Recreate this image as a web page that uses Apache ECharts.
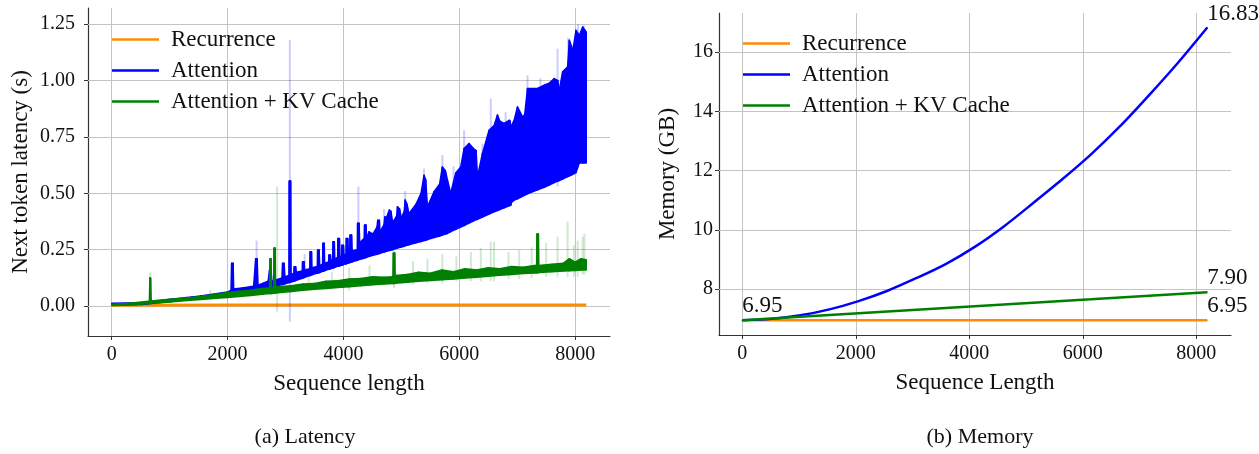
<!DOCTYPE html>
<html>
<head>
<meta charset="utf-8">
<script src="https://cdn.jsdelivr.net/npm/echarts@6/dist/echarts.min.js"></script>
<style>
  html, body { margin: 0; padding: 0; background: #fff; }
  #chart { width: 1259px; height: 454px; }
</style>
</head>
<body>
<div id="chart"></div>
<script>
// ---- (a) Latency: values ----
const latXTicks = [0, 2000, 4000, 6000, 8000]
const latYTicks = [0, 0.25, 0.5, 0.75, 1.0, 1.25]

// Recurrence stays flat near zero
const recSeq = [0, 2000, 4000, 6000, 8192]
const recLatency = [0.003, 0.004, 0.004, 0.004, 0.004]

// Attention: solid band (upper / lower envelope of the smoothed trace)
const attnSeq = [0, 512, 1024, 1536, 2000, 2060, 2070, 2095, 2105, 2250, 2450, 2485, 2510, 2525, 2700, 2725, 2750, 2765,
  2940, 2950, 2975, 2990, 3060, 3065, 3088, 3095, 3145, 3150, 3175, 3185, 3290, 3295, 3320, 3330, 3420, 3425, 3448, 3455,
  3550, 3555, 3580, 3590, 3640, 3645, 3668, 3675, 3745, 3750, 3775, 3785, 3815, 3820, 3842, 3850, 3900, 3905, 3930, 3940,
  3970, 3975, 4000, 4010, 4045, 4050, 4075, 4085, 4110, 4115, 4140, 4150, 4240, 4245, 4270, 4280, 4320, 4360, 4365, 4390,
  4400, 4441, 4510, 4580, 4592, 4620, 4630, 4700, 4715, 4740, 4793, 4820, 4850, 4920, 4933, 4970, 5000, 5050, 5066, 5100,
  5130, 5250, 5340, 5391, 5420, 5450, 5564, 5660, 5708, 5760, 5795, 5852, 5939, 6025, 6083, 6169, 6240, 6290, 6314, 6400,
  6515, 6600, 6659, 6700, 6774, 6861, 6880, 6890, 6900, 6948, 7005, 7092, 7130, 7178, 7351, 7467, 7560, 7640, 7700, 7726,
  7784, 7871, 7900, 7940, 7957, 8015, 8072, 8130, 8192]
const attnUpper = [0.012, 0.015, 0.03, 0.045, 0.062, 0.07, 0.19, 0.19, 0.075, 0.08, 0.088, 0.21, 0.21, 0.092, 0.11, 0.16, 0.16, 0.11,
  0.125, 0.19, 0.19, 0.13, 0.135, 0.555, 0.555, 0.14, 0.145, 0.174, 0.174, 0.15, 0.155, 0.196, 0.196, 0.16, 0.165, 0.241, 0.241, 0.17,
  0.175, 0.248, 0.248, 0.18, 0.185, 0.278, 0.278, 0.19, 0.195, 0.226, 0.226, 0.2, 0.205, 0.285, 0.285, 0.21, 0.215, 0.30, 0.30, 0.22,
  0.22, 0.27, 0.27, 0.225, 0.23, 0.30, 0.30, 0.235, 0.24, 0.315, 0.315, 0.245, 0.25, 0.367, 0.367, 0.28, 0.29, 0.30, 0.359, 0.359,
  0.30, 0.329, 0.32, 0.35, 0.381, 0.381, 0.33, 0.36, 0.396, 0.39, 0.426, 0.42, 0.37, 0.40, 0.44, 0.43, 0.39, 0.42, 0.47, 0.45,
  0.41, 0.45, 0.50, 0.58, 0.56, 0.44, 0.507, 0.54, 0.617, 0.60, 0.559, 0.50, 0.59, 0.617, 0.699, 0.721, 0.70, 0.69, 0.573, 0.677,
  0.78, 0.80, 0.847, 0.82, 0.81, 0.824, 0.82, 0.69, 0.80, 0.824, 0.883, 0.839, 0.85, 0.965, 0.965, 0.98, 0.99, 1.009, 1.0, 0.957,
  1.039, 1.061, 1.179, 1.15, 1.127, 1.223, 1.20, 1.238, 1.216]
const attnLower = [0.003, 0.007, 0.02, 0.033, 0.05, 0.052, 0.052, 0.053, 0.053, 0.058, 0.065, 0.066, 0.067, 0.068, 0.079, 0.08, 0.082, 0.083,
  0.095, 0.096, 0.098, 0.099, 0.104, 0.104, 0.106, 0.107, 0.11, 0.11, 0.113, 0.114, 0.123, 0.123, 0.126, 0.127, 0.135, 0.136, 0.138, 0.139,
  0.146, 0.146, 0.148, 0.149, 0.154, 0.154, 0.156, 0.157, 0.163, 0.163, 0.165, 0.166, 0.169, 0.169, 0.171, 0.172, 0.176, 0.176, 0.178, 0.179,
  0.181, 0.181, 0.184, 0.185, 0.187, 0.188, 0.19, 0.191, 0.193, 0.193, 0.195, 0.196, 0.203, 0.204, 0.206, 0.207, 0.21, 0.213, 0.213, 0.215,
  0.216, 0.22, 0.225, 0.23, 0.231, 0.233, 0.234, 0.24, 0.241, 0.243, 0.246, 0.248, 0.25, 0.256, 0.257, 0.26, 0.262, 0.265, 0.267, 0.27,
  0.272, 0.28, 0.286, 0.29, 0.292, 0.295, 0.304, 0.31, 0.315, 0.319, 0.322, 0.33, 0.34, 0.35, 0.357, 0.368, 0.377, 0.383, 0.385, 0.395,
  0.408, 0.418, 0.424, 0.428, 0.436, 0.445, 0.447, 0.448, 0.46, 0.47, 0.476, 0.487, 0.492, 0.498, 0.515, 0.527, 0.538, 0.548, 0.554, 0.557,
  0.563, 0.574, 0.577, 0.582, 0.584, 0.592, 0.634, 0.634, 0.634]

// Attention: faint raw spikes
const attnRawSeq = [2500, 3075, 3330, 4258, 4700, 5066, 5391, 5708, 5900, 6083, 6400, 6544, 6800, 7178, 7400, 7697, 7880, 8050, 8150]
const attnRawLo = [0.07, -0.07, 0.13, 0.30, 0.35, 0.40, 0.45, 0.52, 0.50, 0.60, 0.60, 0.70, 0.75, 0.90, 0.90, 0.53, 1.00, 1.05, 1.10]
const attnRawHi = [0.29, 1.18, 0.23, 0.53, 0.43, 0.51, 0.61, 0.67, 0.62, 0.78, 0.72, 0.92, 0.86, 1.024, 1.01, 1.142, 1.19, 1.25, 1.245]

// Attention + KV Cache: solid band
const kvSeq = [0, 300, 600, 650, 658, 670, 680, 1000, 1300, 1600, 1800, 2000, 2200, 2400, 2600,
  2725, 2732, 2750, 2757, 2795, 2802, 2820, 2827, 3100, 3300, 3500, 3700, 3900, 4100, 4300, 4500, 4700,
  4855, 4862, 4885, 4892, 5100, 5300, 5500, 5700, 5900, 6100, 6300, 6500, 6700, 6900, 7100, 7300,
  7335, 7342, 7365, 7372, 7600, 7800, 7900, 8000, 8100, 8192]
const kvUpper = [0.008, 0.012, 0.02, 0.021, 0.124, 0.124, 0.022, 0.03, 0.036, 0.045, 0.052, 0.06, 0.066, 0.07, 0.078,
  0.08, 0.21, 0.21, 0.082, 0.083, 0.257, 0.257, 0.085, 0.09, 0.098, 0.10, 0.11, 0.112, 0.12, 0.122, 0.13, 0.128,
  0.13, 0.235, 0.235, 0.135, 0.14, 0.15, 0.145, 0.16, 0.152, 0.165, 0.16, 0.17, 0.165, 0.175, 0.172, 0.18,
  0.18, 0.32, 0.32, 0.18, 0.185, 0.19, 0.21, 0.195, 0.21, 0.205]
const kvLower = [0.002, 0.005, 0.01, 0.011, 0.011, 0.011, 0.012, 0.018, 0.024, 0.03, 0.034, 0.038, 0.042, 0.047, 0.052,
  0.055, 0.055, 0.055, 0.056, 0.057, 0.057, 0.057, 0.058, 0.064, 0.07, 0.074, 0.078, 0.082, 0.086, 0.09, 0.094, 0.098,
  0.1, 0.1, 0.1, 0.101, 0.105, 0.11, 0.113, 0.117, 0.12, 0.124, 0.128, 0.132, 0.136, 0.14, 0.144, 0.147,
  0.148, 0.148, 0.148, 0.149, 0.152, 0.155, 0.156, 0.158, 0.16, 0.16]

// Attention + KV Cache: faint raw spikes
const kvRawSeq = [663, 1700, 2400, 2855, 3400, 3800, 4100, 4450, 4872, 5200, 5450, 5708, 5950, 6200, 6372, 6544, 6600,
  6850, 7034, 7250, 7500, 7697, 7870, 7980, 8043, 8130, 8160]
const kvRawLo = [0.01, 0.03, 0.045, -0.025, 0.07, 0.075, 0.07, 0.085, 0.08, 0.095, 0.10, 0.10, 0.11, 0.11, 0.11, 0.11, 0.11,
  0.12, 0.12, 0.125, 0.13, 0.13, 0.13, 0.13, 0.13, 0.14, 0.14]
const kvRawHi = [0.15, 0.07, 0.09, 0.53, 0.13, 0.15, 0.17, 0.18, 0.26, 0.2, 0.21, 0.23, 0.22, 0.24, 0.257, 0.285, 0.285,
  0.24, 0.25, 0.26, 0.28, 0.308, 0.374, 0.27, 0.29, 0.307, 0.32]

// ---- (b) Memory ----
const memXTicks = [0, 2000, 4000, 6000, 8000]
const memYTicks = [8, 10, 12, 14, 16]
const memSeq = [0, 512, 1024, 1536, 2048, 2560, 3072, 3584, 4096, 4608, 5120, 5632, 6144, 6656, 7168, 7680, 8192]
const memAttn = [6.95, 7.0, 7.12, 7.32, 7.6, 7.95, 8.38, 8.85, 9.43, 10.12, 10.9, 11.7, 12.55, 13.5, 14.55, 15.65, 16.83]
const memKvSeq = [0, 2048, 4096, 6144, 8192]
const memKv = [6.95, 7.19, 7.43, 7.66, 7.90]
const memRecSeq = [0, 8192]
const memRec = [6.95, 6.95]

const legendNames = ['Recurrence', 'Attention', 'Attention + KV Cache']
const legendColors = ['#ff8c00', '#0000ff', '#008000']

const FONT = 'Liberation Serif'
const INK = '#111'
const GRID_COLOR = '#c4c4c4'

const pairs = (xs, ys) => xs.map((x, i) => [x, ys[i]])

// filled band between lo and hi, drawn as one quad per segment
function bandSeries(name, xs, lo, hi, color, z) {
  const segs = xs.slice(0, -1).map((x, i) => [x, lo[i], hi[i], xs[i + 1], lo[i + 1], hi[i + 1]])
  return {
    name, type: 'custom', xAxisIndex: 0, yAxisIndex: 0, z, silent: true,
    data: segs,
    encode: { x: [0, 3], y: [1, 2, 4, 5] },
    renderItem: (params, api) => {
      const a = api.coord([api.value(0), api.value(2)])
      const b = api.coord([api.value(3), api.value(5)])
      const c = api.coord([api.value(3), api.value(4)])
      const d = api.coord([api.value(0), api.value(1)])
      return {
        type: 'polygon',
        shape: { points: [a, b, c, d] },
        style: { fill: color, stroke: color, lineWidth: 1.5, lineJoin: 'round' }
      }
    }
  }
}

function spikeSeries(xs, lo, hi, color) {
  return {
    type: 'custom', xAxisIndex: 0, yAxisIndex: 0, silent: true, z: 3,
    data: xs.map((x, i) => [x, lo[i], hi[i]]),
    encode: { x: 0, y: [1, 2] },
    renderItem: (params, api) => {
      const a = api.coord([api.value(0), api.value(1)])
      const b = api.coord([api.value(0), api.value(2)])
      return {
        type: 'line',
        shape: { x1: a[0], y1: a[1], x2: b[0], y2: b[1] },
        style: { stroke: color, lineWidth: 2 }
      }
    }
  }
}

function gridLines(xt, yt) {
  return {
    silent: true, symbol: 'none', z: 1,
    label: { show: false },
    lineStyle: { color: GRID_COLOR, width: 1, type: 'solid' },
    emphasis: { disabled: true },
    data: xt.map(v => ({ xAxis: v })).concat(yt.map(v => ({ yAxis: v })))
  }
}

function xAxisOpt(idx, min, max, ticks, name) {
  return {
    type: 'value', gridIndex: idx, min, max,
    name, nameLocation: 'middle', nameGap: 36,
    nameTextStyle: { fontFamily: FONT, fontSize: 23, color: INK },
    splitLine: { show: false },
    axisLine: { onZero: false, lineStyle: { color: '#333', width: 1.2 } },
    axisTick: { customValues: ticks, length: 4, lineStyle: { color: '#333' } },
    axisLabel: { customValues: ticks, margin: 9, fontFamily: FONT, fontSize: 20, color: INK, formatter: v => String(v) }
  }
}

function yAxisOpt(idx, min, max, ticks, name, gap, margin, fmt) {
  return {
    type: 'value', gridIndex: idx, min, max,
    name, nameLocation: 'middle', nameGap: gap,
    nameTextStyle: { fontFamily: FONT, fontSize: 23, color: INK },
    splitLine: { show: false },
    axisLine: { show: true, onZero: false, lineStyle: { color: '#333', width: 1.2 } },
    axisTick: { customValues: ticks, length: 4, lineStyle: { color: '#333' } },
    axisLabel: { customValues: ticks, margin, fontFamily: FONT, fontSize: 20, color: INK, formatter: fmt }
  }
}

function legendOpt(left, top) {
  return {
    orient: 'vertical', left, top, z: 20,
    icon: 'rect', itemWidth: 47, itemHeight: 2.5, itemGap: 8,
    selectedMode: false,
    textStyle: { fontFamily: FONT, fontSize: 23, color: INK, lineHeight: 23, padding: [0, 0, 0, 7] },
    data: legendNames.map((n, i) => ({ name: n, itemStyle: { color: legendColors[i] } }))
  }
}

const endLabel = {
  show: true, position: 'top', align: 'left', verticalAlign: 'bottom', distance: 2,
  fontFamily: FONT, fontSize: 23, color: INK,
  formatter: p => p.value[1].toFixed(2)
}
const labelled = (arr, which) => arr.map((d, i) => which.includes(i) ? { value: d, label: endLabel } : d)

function memLine(name, xs, ys, color, which, smooth) {
  return {
    name, type: 'line', xAxisIndex: 1, yAxisIndex: 1, z: 3, smooth,
    symbol: 'circle', symbolSize: 1, showSymbol: true, showAllSymbol: true,
    color, itemStyle: { color }, lineStyle: { width: 2.5, color },
    label: { show: false },
    data: labelled(pairs(xs, ys), which)
  }
}

const chart = echarts.init(document.getElementById('chart'), null, { renderer: 'canvas' })

const option = {
  animation: false,
  backgroundColor: '#fff',
  grid: [
    { left: 88, top: 8, right: 649, bottom: 118 },
    { left: 719, top: 13, right: 28, bottom: 119 }
  ],
  xAxis: [
    xAxisOpt(0, -410, 8602, latXTicks, 'Sequence length'),
    xAxisOpt(1, -410, 8610, memXTicks, 'Sequence Length')
  ],
  yAxis: [
    yAxisOpt(0, -0.133, 1.322, latYTicks, 'Next token latency (s)', 56, 13, v => v.toFixed(2)),
    yAxisOpt(1, 6.456, 17.32, memYTicks, 'Memory (GB)', 40, 6, v => String(v))
  ],
  legend: [legendOpt(107, 23), legendOpt(738, 27)],
  graphic: [
    { type: 'text', x: 305, y: 437, style: { text: '(a) Latency', align: 'center', verticalAlign: 'middle', font: '22px "Liberation Serif"', fill: INK } },
    { type: 'text', x: 980, y: 437, style: { text: '(b) Memory', align: 'center', verticalAlign: 'middle', font: '22px "Liberation Serif"', fill: INK } }
  ],
  series: [
    // ---- latency ----
    {
      name: 'Recurrence', type: 'line', xAxisIndex: 0, yAxisIndex: 0, z: 2,
      symbol: 'none', color: '#ff8c00', lineStyle: { width: 3, color: '#ff8c00' },
      data: pairs(recSeq, recLatency),
      markLine: gridLines(latXTicks, latYTicks)
    },
    spikeSeries(attnRawSeq, attnRawLo, attnRawHi, 'rgba(0,0,255,0.2)'),
    bandSeries('Attention', attnSeq, attnLower, attnUpper, '#0000ff', 4),
    spikeSeries(kvRawSeq, kvRawLo, kvRawHi, 'rgba(0,128,0,0.18)'),
    bandSeries('Attention + KV Cache', kvSeq, kvLower, kvUpper, '#008000', 5),
    // ---- memory ----
    Object.assign(memLine('Recurrence', memRecSeq, memRec, '#ff8c00', [0, memRecSeq.length - 1], false),
      { markLine: gridLines(memXTicks, memYTicks) }),
    memLine('Attention', memSeq, memAttn, '#0000ff', [memSeq.length - 1], 0.3),
    memLine('Attention + KV Cache', memKvSeq, memKv, '#008000', [memKvSeq.length - 1], false)
  ]
}

chart.setOption(option)
</script>
</body>
</html>
